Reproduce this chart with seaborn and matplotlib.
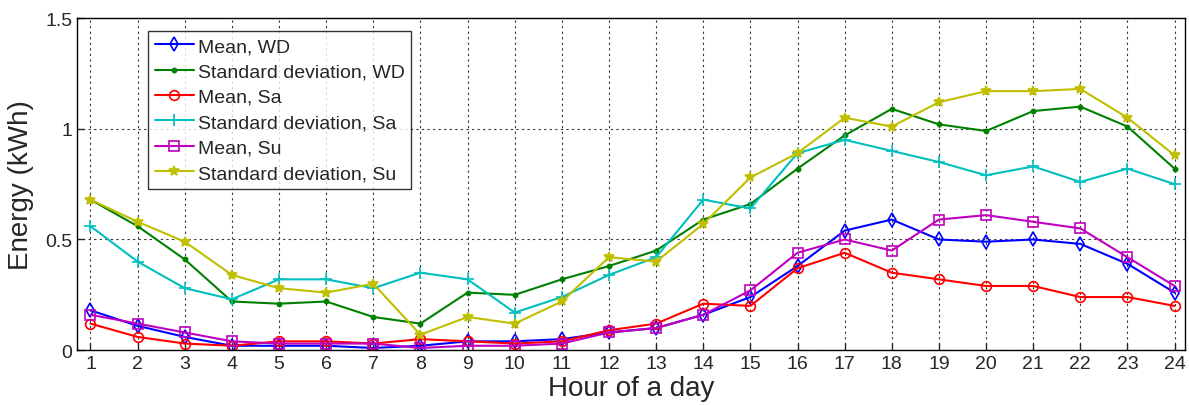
import numpy as np
import pandas as pd
import seaborn as sns
import matplotlib.pyplot as plt

hours = list(range(1, 25))

mean_wd = [0.18, 0.11, 0.06, 0.02, 0.02, 0.02, 0.01, 0.02, 0.04, 0.04, 0.05, 0.08,
           0.10, 0.16, 0.24, 0.38, 0.54, 0.59, 0.50, 0.49, 0.50, 0.48, 0.39, 0.26]
std_wd = [0.68, 0.56, 0.41, 0.22, 0.21, 0.22, 0.15, 0.12, 0.26, 0.25, 0.32, 0.38,
          0.45, 0.59, 0.66, 0.82, 0.97, 1.09, 1.02, 0.99, 1.08, 1.10, 1.01, 0.82]
mean_sa = [0.12, 0.06, 0.03, 0.02, 0.04, 0.04, 0.03, 0.05, 0.04, 0.03, 0.04, 0.09,
           0.12, 0.21, 0.20, 0.37, 0.44, 0.35, 0.32, 0.29, 0.29, 0.24, 0.24, 0.20]
std_sa = [0.56, 0.40, 0.28, 0.23, 0.32, 0.32, 0.28, 0.35, 0.32, 0.17, 0.24, 0.34,
          0.42, 0.68, 0.64, 0.89, 0.95, 0.90, 0.85, 0.79, 0.83, 0.76, 0.82, 0.75]
mean_su = [0.16, 0.12, 0.08, 0.04, 0.03, 0.03, 0.03, 0.01, 0.02, 0.02, 0.03, 0.08,
           0.10, 0.16, 0.27, 0.44, 0.50, 0.45, 0.59, 0.61, 0.58, 0.55, 0.42, 0.29]
std_su = [0.68, 0.58, 0.49, 0.34, 0.28, 0.26, 0.30, 0.07, 0.15, 0.12, 0.22, 0.42,
          0.40, 0.57, 0.78, 0.89, 1.05, 1.01, 1.12, 1.17, 1.17, 1.18, 1.05, 0.88]

labels = ["Mean, WD", "Standard deviation, WD", "Mean, Sa",
          "Standard deviation, Sa", "Mean, Su", "Standard deviation, Su"]
series = [mean_wd, std_wd, mean_sa, std_sa, mean_su, std_su]

# matlab-ish styling for each line
colors = ["#0000ff", "#008000", "#ff0000", "#00bfbf", "#bf00bf", "#bfbf00"]
markers = ["d", ".", "o", "+", "s", "*"]
msizes = [7, 6, 7, 8, 7, 7]
hollow = [True, False, True, False, True, False]

sns.set_style("ticks")
plt.rcParams["font.family"] = ["Liberation Sans", "DejaVu Sans"]

fig = plt.figure(figsize=(11.89, 4.06), dpi=100)
ax = fig.add_axes([0.065, 0.135, 0.932, 0.818])

for lab, vals, c, m, ms, h in zip(labels, series, colors, markers, msizes, hollow):
    kw = dict(markersize=ms, markeredgewidth=1.2, markeredgecolor=c)
    if h:
        kw["markerfacecolor"] = "none"
    sns.lineplot(x=hours, y=vals, ax=ax, color=c, marker=m, label=lab,
                 linewidth=1.5, **kw)

ax.set_xlim(0.72, 24.23)
ax.set_ylim(0, 1.5)
ax.set_xticks(hours)
ax.set_yticks([0, 0.5, 1, 1.5])
ax.set_yticklabels(["0", "0.5", "1", "1.5"])
ax.tick_params(direction="in", labelsize=14, length=5, width=1)
ax.grid(True, linestyle=(0, (2, 3)), color="#333333", linewidth=0.8)
for s in ax.spines.values():
    s.set_visible(True)
    s.set_linewidth(1)
    s.set_color("black")

ax.set_xlabel("Hour of a day", fontsize=20, labelpad=2)
ax.set_ylabel("Energy (kWh)", fontsize=20, labelpad=8)

leg = ax.legend(loc="upper left", bbox_to_anchor=(0.064, 0.962), fontsize=14,
                frameon=True, fancybox=False, edgecolor="black",
                handlelength=2.0, handletextpad=0.2, borderpad=0.35,
                labelspacing=0.4, borderaxespad=0)
leg.get_frame().set_linewidth(1)

fig.savefig("out.png", dpi=100)
